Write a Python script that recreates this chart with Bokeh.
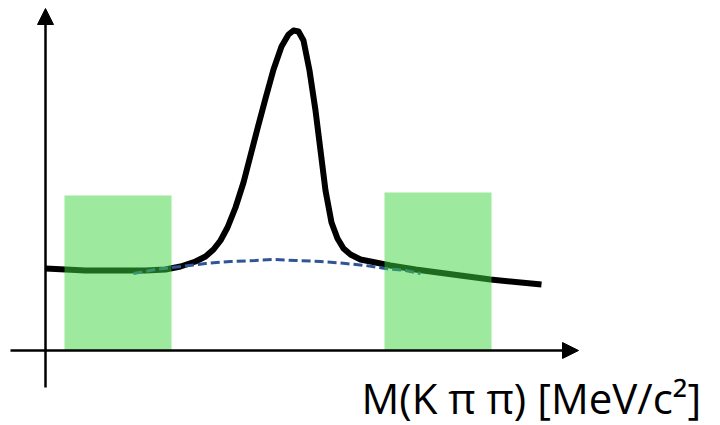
from bokeh.plotting import figure
from bokeh.models import Range1d, Arrow, NormalHead, ColumnDataSource
from bokeh.embed import file_html
from bokeh.resources import INLINE
from bokeh.core.properties import value

# Schematic invariant-mass distribution (arbitrary units)
# total fit (signal peak + background)
mass_total = [0, 20, 40, 60, 80, 100, 120, 135, 150, 160, 168, 175, 182, 190, 198,
              205, 212, 220, 228, 236, 243, 248, 253, 258, 264, 270, 275, 280, 286,
              292, 298, 305, 315, 330, 345, 370, 400, 445, 496]
yield_total = [82, 81, 80, 80, 80, 80, 81, 84, 89, 94, 101, 110, 123, 143, 168,
               195, 222, 252, 281, 304, 316, 320, 319, 310, 280, 240, 200, 160, 128,
               112, 102, 96, 91, 88, 85, 81, 77, 71, 66]
# background (dashed)
mass_bkg = [88, 110, 135, 160, 185, 210, 228, 250, 275, 300, 320, 340, 360, 375]
yield_bkg = [77, 81, 84, 87, 89, 90, 91, 90, 89, 87, 85, 82, 80, 77]
# sideband windows
sb_left = [19, 339]
sb_right = [126, 446]
sb_top = [155, 158]

p = figure(width=720, height=425, output_backend="svg", toolbar_location=None,
           x_range=Range1d(-45, 675), y_range=Range1d(-75, 350),
           x_axis_location=None, y_axis_location=None, min_border=0)
p.grid.visible = False
p.outline_line_color = None
p.background_fill_color = "white"

# axes with arrows
p.add_layout(Arrow(end=NormalHead(size=16, fill_color="black", line_color="black", line_width=1),
                   x_start=-35, y_start=0, x_end=533, y_end=0,
                   line_width=2.5, line_color="black"))
p.add_layout(Arrow(end=NormalHead(size=16, fill_color="black", line_color="black", line_width=1),
                   x_start=0, y_start=-37, x_end=0, y_end=342,
                   line_width=2.5, line_color="black"))

p.line(mass_total, yield_total, line_color="black", line_width=6, line_join="round")
p.line(mass_bkg, yield_bkg, line_color="#2f5597", line_width=3, line_dash="9 4")

src = ColumnDataSource(dict(left=sb_left, right=sb_right, top=sb_top, bottom=[0, 0]))
p.quad(left="left", right="right", top="top", bottom="bottom", source=src,
       fill_color="#3bd43b", fill_alpha=0.5, line_color=None)

p.text(x=[316], y=[-47], text=["M(K π π) [MeV/c²]"], text_font=value("Open Sans"),
       text_font_size="42px", text_color="black", text_baseline="alphabetic", text_align="left")

open("out.html", "w").write(file_html(p, INLINE))
